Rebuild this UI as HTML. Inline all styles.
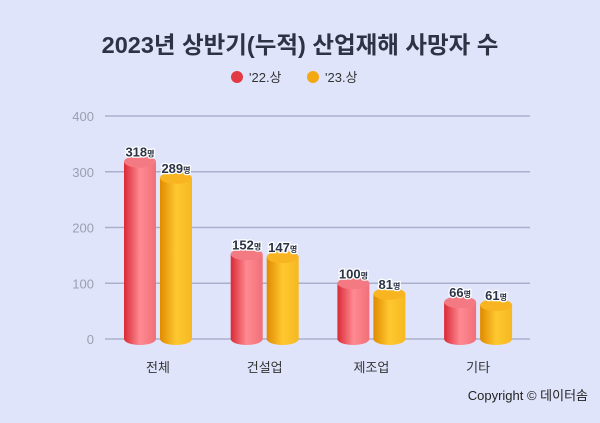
<!DOCTYPE html>
<html><head><meta charset="utf-8"><style>
body{margin:0;width:600px;height:423px;background:#e0e4fb;font-family:"Liberation Sans","Noto Sans CJK KR",sans-serif;overflow:hidden}
svg{display:block}
</style></head><body>
<svg width="600" height="423">
<defs>
<linearGradient id="gr" x1="0" x2="1"><stop offset="0" stop-color="#d92a35"/><stop offset="0.5" stop-color="#ff8a92"/><stop offset="1" stop-color="#f16f78"/></linearGradient>
<linearGradient id="gy" x1="0" x2="1"><stop offset="0" stop-color="#e08a00"/><stop offset="0.5" stop-color="#ffc830"/><stop offset="1" stop-color="#f6b820"/></linearGradient>
</defs>
<text x="300" y="53" text-anchor="middle" font-size="23.5" font-weight="bold" fill="#2b3345">2023년 상반기(누적) 산업재해 사망자 수</text>
<g>
<circle cx="237" cy="77" r="6" fill="#e23a44"/>
<text x="249" y="82" font-size="13" fill="#333">'22.상</text>
<circle cx="313" cy="77" r="6" fill="#f4a812"/>
<text x="325" y="82" font-size="13" fill="#333">'23.상</text>
</g>
<g id="grid"></g><g id="bars"></g>
<text x="588" y="400" text-anchor="end" font-size="13" fill="#222">Copyright © 데이터솜</text>
</svg>
<script>
const categories=["전체","건설업","제조업","기타"];
const s22=[318,152,100,66];
const s23=[289,147,81,61];
const ticks=[0,100,200,300,400];
const NS="http://www.w3.org/2000/svg";
const y0=339,yTop=116,maxV=400;
function y(v){return y0-(y0-yTop)*v/maxV;}
function gx(i){return 158+i*106.7;}
function mk(t,a,p){const e=document.createElementNS(NS,t);for(const k in a)e.setAttribute(k,a[k]);p.appendChild(e);return e;}
const grid=document.getElementById('grid'),bars=document.getElementById('bars');
ticks.forEach(t=>{
 const l=mk('line',{x1:105,x2:530,y1:y(t),y2:y(t),stroke:'#aab0cc','stroke-width':1.5},grid);
 
 
 const tx=mk('text',{x:94,y:y(t)+5,'text-anchor':'end','font-size':13,fill:'#9aa0b0'},grid);
 tx.textContent=t;
 
 
});
function bar(cx,v,fill,top,name){
 const w=32,ry=6,yt=y(v);
 const g=mk('g',{},bars);
 
 
 mk('path',{d:`M${cx-w/2},${yt} L${cx-w/2},${y0} A${w/2},${ry} 0 0 0 ${cx+w/2},${y0} L${cx+w/2},${yt} Z`,fill:fill},g);
 mk('ellipse',{cx:cx,cy:yt,rx:w/2,ry:ry,fill:top},g);
 const t=mk('text',{x:cx,y:yt-5,'text-anchor':'middle','font-size':13,'font-weight':'bold',fill:'#2b3345',stroke:'#fff','stroke-width':2.5,'paint-order':'stroke'},g);
 t.textContent=v;
 const s=mk('tspan',{'font-size':8},t);s.textContent='명';
}
categories.forEach((c,i)=>{
 bar(gx(i)-18,s22[i],'url(#gr)','#f37a82','bar-22-'+i);
 bar(gx(i)+18,s23[i],'url(#gy)','#f9b521','bar-23-'+i);
 const t=mk('text',{x:gx(i),y:372,'text-anchor':'middle','font-size':13,fill:'#333'},bars);
 t.textContent=c;
 
 
});
</script>
</body></html>
